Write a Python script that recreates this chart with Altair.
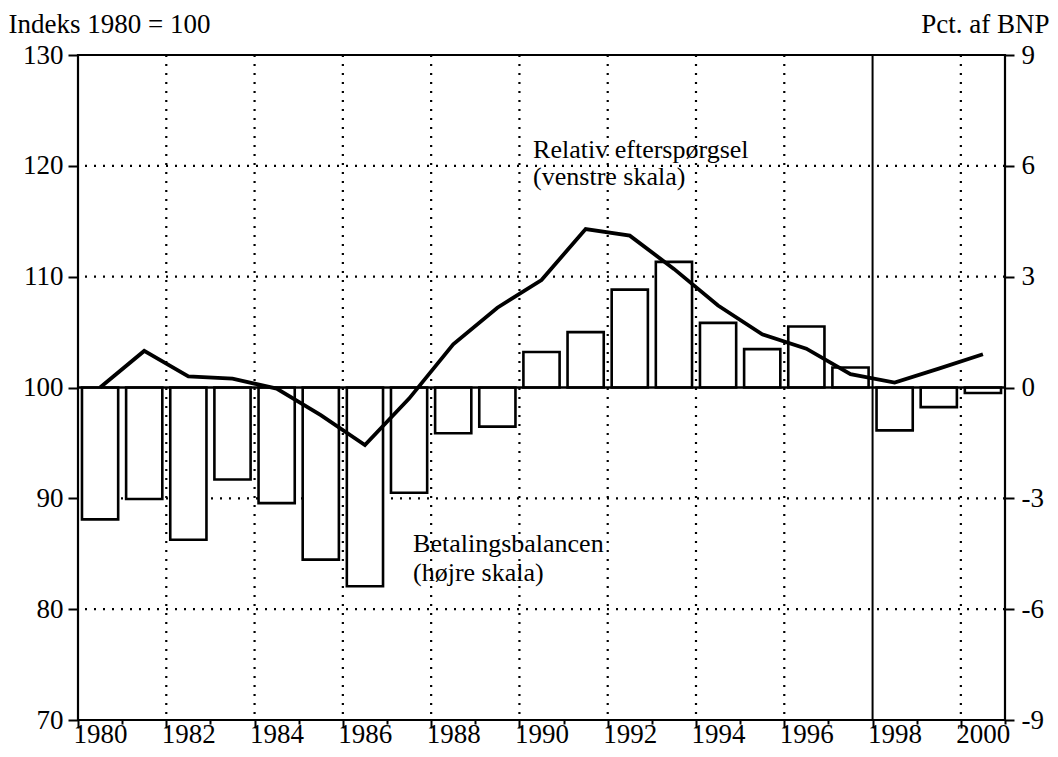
import altair as alt
import pandas as pd

# ---- data ----
years = list(range(1980, 2001))
balance = [-3.57, -3.02, -4.12, -2.49, -3.13, -4.66, -5.38, -2.85, -1.24, -1.06,
           0.96, 1.50, 2.65, 3.40, 1.75, 1.04, 1.65, 0.54, -1.16, -0.53, -0.15]
relative = [100.0, 103.3, 101.0, 100.8, 99.9, 97.5, 94.8, 99.0, 103.9, 107.2,
            109.7, 114.3, 113.7, 110.7, 107.4, 104.8, 103.5, 101.2, 100.45, 101.7, 103.0]

grid_years = [1982, 1984, 1986, 1988, 1990, 1992, 1994, 1996, 2000]
forecast_year = [1998]
grid_left_values = [80, 90, 110, 120]
base_value = [100]
left_ticks = [70, 80, 90, 100, 110, 120, 130]
right_ticks = [-9, -6, -3, 0, 3, 6, 9]
x_ticks = list(range(1980, 2002))

ann_text = ["Relativ efterspørgsel", "(venstre skala)", "Betalingsbalancen", "(højre skala)"]
ann_x = [1990.31, 1990.31, 1987.59, 1987.59]
ann_y = [120.7, 118.25, 85.16, 82.5]

FONT = "Liberation Serif"
FS = 27

df = pd.DataFrame({"year": years, "balance": balance, "relative": relative})
vgrid = pd.DataFrame({"year": grid_years})
fline = pd.DataFrame({"year": forecast_year})
hgrid = pd.DataFrame({"v": grid_left_values})
base = pd.DataFrame({"v": base_value})
ann = pd.DataFrame({"text": ann_text, "x": ann_x, "y": ann_y})

xscale = alt.Scale(domain=[1980, 2001], nice=False, zero=False)
xaxis = alt.Axis(
    values=x_ticks,
    labelExpr="datum.value % 2 == 0 && datum.value < 2001 ? '' + datum.value : ''",
    labelOffset=22, labelOverlap=False, labelFlush=False, labelBound=False,
    tickSize=8, labelPadding=-7, grid=False, domain=False, title=None,
    labelFont=FONT, labelFontSize=FS,
    tickDash={"condition": {"test": "datum.value % 2 == 1", "value": [4, 20]}, "value": [8, 0]},
)
left_scale = alt.Scale(domain=[70, 130], nice=False, zero=False)
right_scale = alt.Scale(domain=[-9, 9], nice=False, zero=False)

left_axis = alt.Axis(
    orient="left", values=left_ticks, tickSize=10, labelPadding=5, grid=False, domain=False,
    labelFont=FONT, labelFontSize=FS,
    title="Indeks 1980 = 100", titleAngle=0, titleX=-70, titleY=-23,
    titleAlign="left", titleBaseline="alphabetic", titleFont=FONT,
)
right_axis = alt.Axis(
    orient="right", values=right_ticks, tickSize=9, labelPadding=7, grid=False, domain=False,
    labelExpr="'' + datum.value", labelFont=FONT, labelFontSize=FS,
    title="Pct. af BNP", titleAngle=0, titleX=44, titleY=-23,
    titleAlign="right", titleBaseline="alphabetic", titleFont=FONT,
)

dot = [2, 7]

vgrid_layer = alt.Chart(vgrid).mark_rule(color="black", strokeWidth=2.2, strokeDash=dot).encode(
    x=alt.X("year:Q", scale=xscale, axis=xaxis)
)
fline_layer = alt.Chart(fline).mark_rule(color="black", strokeWidth=2).encode(
    x=alt.X("year:Q", scale=xscale, axis=xaxis)
)
hgrid_layer = alt.Chart(hgrid).mark_rule(color="black", strokeWidth=2.2, strokeDash=dot).encode(
    y=alt.Y("v:Q", scale=left_scale, axis=None)
)
bars = alt.Chart(df).transform_calculate(
    x0="datum.year + 0.09", x1="datum.year + 0.91", zero="0"
).mark_bar(fill="white", stroke="black", strokeWidth=2.6).encode(
    x=alt.X("x0:Q", scale=xscale, axis=xaxis),
    x2="x1:Q",
    y=alt.Y("balance:Q", scale=right_scale, axis=right_axis),
    y2="zero:Q",
)
base_layer = alt.Chart(base).mark_rule(color="black", strokeWidth=2.4).encode(
    y=alt.Y("v:Q", scale=left_scale, axis=None)
)
line = alt.Chart(df).transform_calculate(xm="datum.year + 0.5").mark_line(
    color="black", strokeWidth=3.8
).encode(
    x=alt.X("xm:Q", scale=xscale, axis=xaxis),
    y=alt.Y("relative:Q", scale=left_scale, axis=left_axis),
)
text = alt.Chart(ann).mark_text(
    align="left", baseline="alphabetic", font=FONT, fontSize=26, color="black"
).encode(
    x=alt.X("x:Q", scale=xscale, axis=xaxis),
    y=alt.Y("y:Q", scale=left_scale, axis=None),
    text="text:N",
)

chart = alt.layer(
    vgrid_layer, fline_layer, hgrid_layer, bars, base_layer, line, text
).resolve_scale(y="independent").properties(
    width=927, height=665,
    padding={"left": 70, "top": 47, "right": 45, "bottom": 29},
    autosize="none",
    background="white",
).configure_view(
    stroke="black", strokeWidth=2.2
).configure_axis(
    labelFont=FONT, labelFontSize=FS, labelColor="black",
    titleFont=FONT, titleFontSize=FS, titleFontWeight="normal", titleColor="black",
    tickColor="black", tickWidth=2,
)

chart.save("out.html", embed_options={"renderer": "svg", "actions": False})
